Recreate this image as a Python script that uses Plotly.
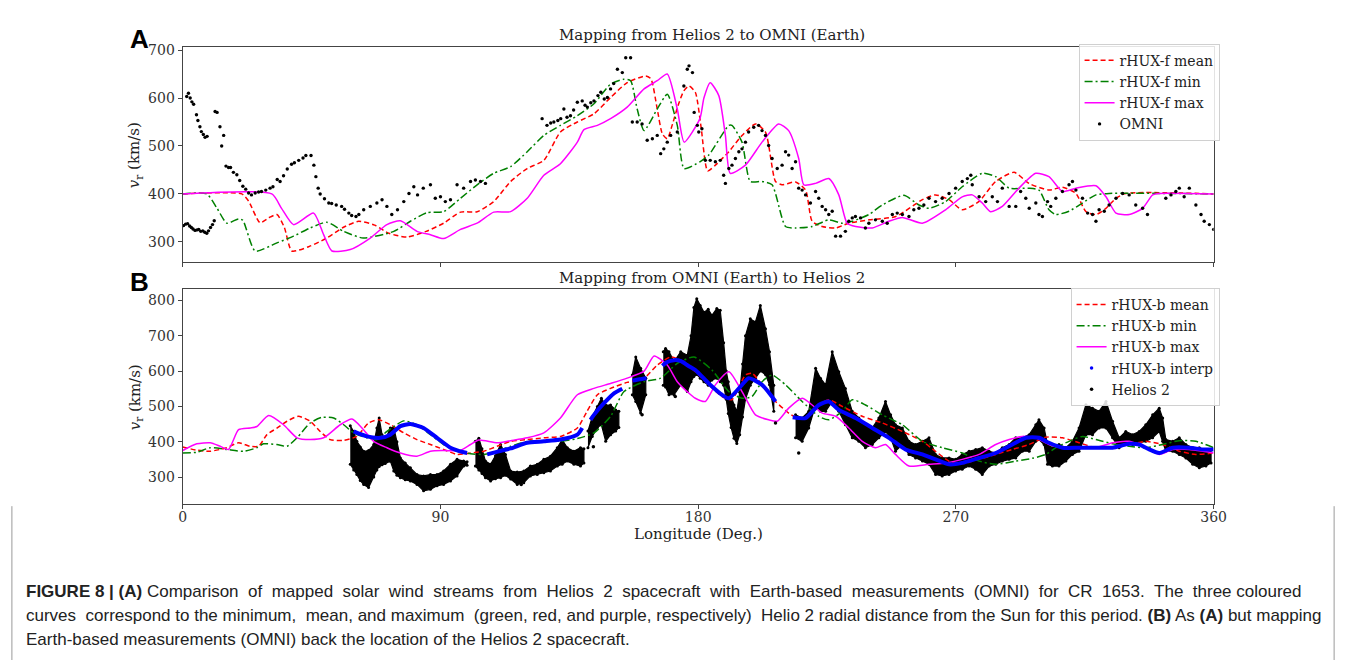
import plotly.graph_objects as go

# ---------------- Panel A data (Helios 2 -> OMNI) ----------------
a_mean_lon = [0, 20.6, 23, 27, 30, 32.9, 35.5, 38.1, 44, 50.3, 56, 61.4, 67, 72, 78.3, 85, 91.1, 97, 102.8, 108.6,
              114.5, 120.3, 126.1, 131.9, 137.8, 143.6, 149.4, 155.2, 161.7, 163.5, 165.7, 167.5, 169.2, 171, 173,
              175, 176.8, 179, 181, 183.3, 186, 190.7, 195, 200, 203.5, 207, 209.3, 214, 217.5, 219.8, 223.3, 228,
              232.6, 239.6, 249, 258.3, 262.9, 267.6, 272.2, 278, 283.9, 290.3, 295.5, 302.5, 307.2, 311.9, 315.4,
              318.9, 322.4, 325.9, 329.3, 360]
a_mean_val = [400, 400, 385, 340, 350, 357, 330, 281, 290, 308, 330, 343, 335, 318, 310, 322, 339, 362, 363, 384,
              426, 453, 470, 529, 550, 567, 601, 632, 646, 640, 577, 525, 515, 545, 585, 615, 625, 612, 540, 448,
              460, 488, 520, 546, 529, 426, 419, 425, 408, 343, 332, 329, 339, 346, 353, 388, 398, 388, 367, 384,
              426, 445, 422, 408, 414, 401, 363, 357, 370, 391, 401, 400]

a_min_lon = [0, 8.4, 12, 15.4, 19.5, 21, 25.3, 32.9, 38.7, 44.5, 50.3, 56.2, 63, 73.7, 79.5, 85.3, 91.1, 97, 102.8,
             108.6, 114.5, 120.3, 126.1, 131.9, 137.8, 143.6, 149.4, 154, 156.4, 158.7, 161.1, 165.7, 169.2, 172.7,
             175.1, 180.6, 183.7, 190.7, 191.8, 195.3, 198.2, 202.3, 205.8, 210.5, 214, 219.8, 225.6, 230.3, 233.8,
             239.6, 244.3, 251.8, 257.1, 260.6, 266.4, 272.2, 279.2, 283.9, 288.6, 295.5, 299, 302.5, 304.9, 309.5,
             314.2, 318.9, 323.5, 360]
a_min_val = [400, 400, 370, 339, 348, 345, 281, 298, 312, 329, 341, 322, 308, 322, 343, 361, 363, 391, 419,
             443, 457, 488, 522, 543, 563, 588, 629, 639, 636, 577, 532, 577, 608, 543,
             453, 467, 481, 543, 543, 508, 426, 426, 419, 332, 329, 332, 346, 339, 343,
             357, 377, 397, 377, 370, 384, 415, 443, 436, 412, 412, 408, 367, 357, 364,
             381, 398, 401, 400]

a_max_lon = [0, 31.1, 34.5, 38.7, 45.7, 49.2, 52.1, 58.5, 65.5, 71.3, 76, 81.8, 86.5, 91.1, 97, 102.8, 108.6, 114.5,
             120.3, 126.1, 131.9, 137.8, 140.1, 144.8, 149.4, 155.2, 161.1, 165.7, 169.2, 172.7, 175.1, 180.6, 182,
             184.2, 187.2, 189.5, 191.2, 196.5, 202.3, 208.1, 211.6, 215.1, 216.9, 221, 225.6, 229.1, 232, 235,
             240.8, 246.6, 251.3, 258.3, 266.4, 272.2, 275.7, 279.2, 282.1, 286.2, 292, 297.9, 302.5, 307.2, 311.9,
             318.9, 322.4, 325.9, 330.5, 335.2, 338.7, 341, 360]
a_max_val = [400, 400, 370, 336, 360, 315, 281, 284, 308, 336, 344, 322, 315, 307, 326, 339, 362, 363,
             391, 439, 463, 508, 534, 543, 557, 581, 619, 636, 650, 577, 508, 557, 600,
             632, 605, 522, 443, 460, 508, 546, 532, 474, 419, 422, 432, 398, 339, 332,
             329, 343, 351, 339, 367, 394, 398, 381, 363, 374, 412, 443, 436, 405, 412,
             417, 394, 360, 357, 370, 398, 401, 400]

omni_lon = [0.3, 1, 1.7, 2.4, 3, 3.6, 4.3, 5, 5.6, 6.3, 7, 7.7, 8.4, 9, 9.7, 10.4, 11,
            1.4, 2.0, 2.6, 3.2, 3.8, 4.8, 5.3, 6, 6.5, 7.2, 7.8, 8.5, 11.3, 12, 13, 13.6, 14.3, 15.1, 16, 16.7,
            17.7, 18.9, 19.9, 21, 22, 23, 24, 25.3, 26.5, 27.5, 29, 30.5, 31.5, 33, 34, 35.2, 36.5, 38, 39, 40.5,
            42, 43, 44.8, 45.8, 46.5, 47.3, 48, 49.5, 51, 52, 53.6, 55.5, 56.5, 58, 59, 60.5, 61.5, 63.2, 65.5,
            67.8, 69.6, 71.3, 73, 75, 77.2, 79, 80.7, 82, 84, 86.5, 88.2, 90, 91.7, 93.5, 95.8, 98.1, 100.5, 102.2,
            104, 105.7,
            125.5, 127.2, 128.5, 129.6, 131, 132, 133.1, 134.2, 135.4, 136.5, 137.8, 139.5, 140.5, 141.3, 142.5,
            143.6, 145, 146, 147.2, 148.3, 149.4, 150.5, 151.8, 153.5, 154.7, 156.4, 157, 158.7, 160.4, 162.2, 164,
            165.7, 166.9, 168, 169.2, 170.4, 172.7, 175, 176.2, 176.8, 178, 178.6, 179.7,
            180.2, 181.3, 182.5, 184.2, 186, 187.7, 188.9, 189.5, 190.7, 191.8, 193, 194.2, 195.3, 196.5, 197.6,
            199.4, 201.1, 202.3, 203.5, 204.6, 205.8, 207.6, 209.3, 210.5, 211.6, 212.8, 214, 215.1, 216.3, 217.5,
            219.2, 221, 222.1, 223.3, 224.5, 225.6, 226.8, 228, 229.7, 231.4, 232.6, 233.8, 234.9, 236.7, 238.4,
            239.6, 241.9, 244.3, 246, 247.8, 249.5, 251.3, 253.6, 255.3, 257.1, 258.8, 260.6, 262.9, 265.2, 267.6,
            269.9, 272.2, 274, 275.2, 275.7, 278.1, 280.4, 282.7, 284.5, 286.2, 288.6, 290.9, 292.6, 294.4, 295.6,
            297.9, 299, 300.2, 302, 303.1, 304.9, 307.2, 309.5, 310.7, 311.9, 314.2, 316, 317.7, 318.9, 320, 321.8,
            323.5, 325.9, 328.2, 330.5, 332.8, 335.2, 336.9, 343.3, 345.1, 346.8, 348, 349.7, 351.5, 353.8, 355.6,
            356.7, 358.5, 360]
omni_val = [334, 337, 338, 333, 330, 327, 324, 325, 326, 322, 323, 320, 318, 323, 330, 336, 344,
            603, 610, 600, 592, 587, 565, 553, 540, 530, 524, 518, 520, 572, 570, 540, 500, 522, 458, 455, 455,
            445, 440, 428, 416, 410, 402, 398, 402, 404, 405, 408, 412, 415, 430, 426, 438, 452, 462, 465, 470,
            475, 480, 480, 460, 436, 412, 400, 390, 381, 380, 377, 374, 368, 360, 355, 353, 357, 367, 374,
            381, 388, 374, 357, 367, 384, 401, 415, 398, 412, 419, 391, 394, 384, 388, 419, 412, 426, 429,
            426, 422,
            557, 543, 548, 550, 553, 557, 577, 560, 563, 575, 591, 594, 585, 581, 590,
            594, 605, 612, 598, 601, 619, 630, 660, 653, 684, 684, 550, 550, 546, 512, 515,
            522, 484, 494, 508, 522, 529, 625, 660, 667, 653, 570, 543,
            529, 536, 470, 470, 467, 470, 439, 422, 453, 460, 474, 488, 494, 508, 529,
            539, 543, 532, 522, 501, 474, 453, 460, 488, 481, 453, 467, 412, 408, 398,
            381, 405, 391, 374, 367, 357, 364, 312, 312, 322, 343, 350, 353, 350, 329,
            339, 346, 343, 339, 357, 360, 357, 353, 367, 370, 377, 391, 384, 391, 401,
            412, 426, 432, 439, 419, 394, 384, 394, 384, 412, 374, 374, 405, 391, 370,
            381, 357, 353, 384, 374, 391, 405, 419, 426, 408, 391, 360, 357, 343, 367, 364,
            377, 391, 401, 398, 377, 370, 357, 391, 398, 405, 412, 394, 412, 377, 357,
            343, 336, 326]

# ---------------- Panel B data (OMNI -> Helios 2) ----------------
b_mean_lon = [0, 4.9, 9.6, 15.4, 19.5, 23.5, 26.5, 29.4, 33, 36.4, 40.4, 44.5, 48, 51.5, 56.2, 60.8, 64.9, 68.4,
              72.5, 77.2, 81.8, 86.5, 91.1, 95.8, 100.5, 105.1, 109.8, 114.5, 120.3, 126.1, 131.9, 137.8, 141.2,
              144.8, 149.4, 155.2, 161.1, 165.7, 170.4, 175, 179, 183.7, 188.3, 191.8, 196.5, 198.8, 202.3, 207,
              211.6, 214, 217.5, 222.1, 225.6, 230.3, 237.3, 244.3, 251.3, 258.3, 263, 267.6, 272.2, 278.1, 283.9,
              289.7, 295.5, 301.4, 307.2, 313, 318.9, 324.7, 330.5, 336.3, 342.2, 348, 353.8, 360]
b_mean_val = [385, 376, 373, 383, 397, 387, 387, 420, 439, 458, 472, 458, 429, 406, 404, 415, 453, 462,
              448, 425, 406, 392, 378, 364, 368, 373, 387, 401, 406, 411, 415, 439, 486,
              533, 551, 568, 580, 617, 640, 626, 598, 561, 528, 519, 589, 594, 561, 514,
              481, 469, 467, 504, 519, 500, 472, 453, 429, 401, 372, 345, 338, 350, 364,
              378, 392, 413, 411, 397, 383, 383, 392, 401, 392, 373, 364, 368]

b_min_lon = [0, 4.9, 9.6, 15.4, 21.2, 25.9, 28.2, 32.9, 36.4, 39.9, 44.5, 48.6, 52.7, 56.2, 59.7, 64.3, 67.8, 71.3,
             77.2, 81.8, 86.5, 91.1, 95.8, 100.5, 105.1, 109.8, 114.5, 120.3, 126.1, 131.9, 137.8, 143.6, 149.4,
             154.1, 161.1, 166.9, 172.7, 178.5, 184.8, 190.7, 195.3, 198.8, 202.3, 205.8, 210.5, 216.3, 222.1,
             225.6, 230.3, 233.8, 238.4, 244.3, 251.3, 258.3, 265.2, 272.2, 278.1, 283.9, 290.9, 296.7, 301.4,
             304.9, 309.5, 314.2, 318.9, 324.7, 330.5, 336.3, 342.2, 348, 353.8, 360]
b_min_val = [368, 370, 383, 378, 373, 383, 394, 392, 387, 411, 453, 469, 467, 448, 425, 411, 406, 429,
             459, 448, 420, 392, 373, 366, 364, 373, 387, 401, 403, 401, 409, 425, 472,
             542, 570, 580, 622, 640, 603, 542, 523, 528, 570, 589, 561, 514, 472,
             462, 486, 519, 504, 476, 448, 401, 383, 368, 345, 336, 345, 353, 364,
             383, 401, 415, 406, 394, 387, 383, 392, 403, 401, 383]

b_max_lon = [0, 4.9, 9.6, 13.1, 16, 19.5, 23.5, 25.9, 30, 35.2, 39.9, 44.5, 49.2, 55, 59.1, 62.6, 66.7, 71.3, 76,
             81.8, 86.5, 91.1, 96.9, 100.5, 103.4, 109.8, 114.5, 120.3, 126.1, 131.9, 137.8, 143.6, 149.4, 155.2,
             161.1, 164.6, 169.2, 172.7, 177.4, 179, 182.5, 186, 190.7, 195.3, 200, 204.6, 207.6, 211.6, 216.3,
             219.8, 223.3, 228, 232.6, 237.3, 241.9, 245.4, 248.9, 253.6, 260.6, 266.4, 272.2, 278.1, 283.9, 288.6,
             293.2, 297.9, 302.5, 307.2, 313, 318.9, 324.7, 330.5, 336.3, 341, 345.7, 351.5, 356.2, 360]
b_max_val = [375, 394, 397, 387, 378, 434, 439, 443, 474, 448, 411, 406, 411, 448, 464, 439, 401, 383, 368,
             359, 373, 375, 375, 392, 405, 397, 403, 411, 425, 467, 533, 551, 565, 580,
             600, 643, 617, 570, 533, 523, 514, 561, 598, 542, 476, 462, 458, 495, 523,
             504, 481, 472, 439, 401, 383, 392, 364, 331, 336, 340, 350, 364, 392, 406,
             415, 411, 392, 383, 383, 383, 397, 401, 383, 364, 378, 378, 373, 368]

# blue "interp" curve (None marks a gap)
interp_lon = [59.7, 64.3, 69.0, 72.5, 76.0, 79.5, 84.1, 88.8, 93.5, 98.1, 99.3, None,
              106.3, 110, 114.5, 120.3, 126.1, 131.9, 137.8, 139.5, None,
              142.4, 143.6, 147.1, 150.6, 153.5, None,
              157, 159.5, 162, None,
              167.5, 169, 171.6, 174, 176.5, 179, 183.7, 188.3, 190.7, 195.3, 197.6, 202.3, 207.0, None,
              213, 217.5, 222.1, 225.6, 229.1, 235.0, 240.8, 246.6, 252.4, 258.3, 262.9, 267.6, 272.2, 278.1,
              283.9, 289.7, 294.4, 299.0, 302.5, 307.2, 313.0, 318.9, 324.7, 330.5, 334.0, 337.5, 341.0, 345.7,
              351.5, 356.2, 360]
interp_val = [429, 415, 411, 420, 444, 450, 439, 411, 383, 370, 368, None,
              364, 372, 381, 397, 401, 406, 420, 439, None,
              462, 476, 509, 537, 550, None,
              573, 577, 580, None,
              615, 625, 631, 628, 615, 603, 565, 533, 523, 561, 580, 561, 514, None,
              469, 467, 504, 514, 490, 467, 439, 411, 378, 364, 350, 336, 340, 354,
              368, 392, 411, 411, 397, 383, 383, 383, 383, 394, 392, 378, 368, 383,
              383, 378, 378]

# Helios 2 measurements: upper / lower envelope of the dense point cloud (None marks a data gap)
helios_lon = [58.5, 59.7, 60.8, 62.0, 63.2, 64.9, 66.7, 67.8, 68.6, 69.6, 70.7, 72.5, 73.7, 74.8, 76.0, 77.7, 79.5,
              81.8, 84.1, 86.5, 88.8, 91.1, 93.5, 95.8, 98.1, 99.3, None,
              102.2, 103.4, 104.5, 105.7, 107.5, 109.2, 111.0, 112.7, 114.5, 116.8, 119.1, 121.4, 123.8, 126.1,
              128.4, 130.8, 132.5, 134.3, 136.6, 138.9, 140.1, None,
              141.5, 143.0, 144.8, 146.2, 147.7, 149.4, 151.2, 152.3, None,
              157.0, 158.2, 159.9, 161.7, None,
              167.8, 168.6, 169.8, 171.6, 173.9, 176.2, 177.5, 178.5, 179.5, 180.7, 182.0, 183.5, 184.8, 186.5,
              187.7, 188.9, 189.8, 190.5, 191.5, 192.5, 193.5, 194.5, 195.5, 196.5, 198.2, 200.0, 201.7, 203.5,
              204.9, 206.4, None,
              214.0, 216.3, 218.6, 221.0, 222.7, 224.5, 226.8, 229.1, 231.4, 233.8, 236.1, 238.4, 240.8, 243.1,
              245.4, 247.2, 248.9, 251.3, 253.6, 255.9, 258.3, 260.6, 262.9, 265.2, 267.6, 269.9, 272.2, 274.6,
              276.9, 279.2, 281.6, 283.9, 286.2, 288.6, 290.9, 293.2, 295.6, 297.9, 299.0, 300.8, 302.0, 303.7,
              306.0, 308.4, 310.7, 313.0, 315.4, 317.7, 320.0, 322.4, 324.7, 327.0, 329.3, 331.7, 334.0, 336.3,
              338.7, 341.0, 342.2, 343.3, 345.7, 348.0, 350.3, 352.7, 355.0, 357.3, 359.1]
helios_hi = [445, 429, 401, 385, 373, 375, 392, 439, 467, 420, 405, 439, 440, 400, 354, 340, 326,
             307, 303, 307, 307, 317, 336, 350, 345, 343, None,
             401, 410, 380, 345, 336, 360, 392, 364, 317, 314, 317, 331, 336, 350,
             359, 383, 406, 383, 373, 383, 380, None,
             430, 470, 500, 523, 504, 504, 490, 486, None,
             589, 640, 608, 580, None,
             655, 664, 655, 627, 655, 645, 700, 780, 805, 786, 767, 775, 758, 777,
             772, 680, 600, 570, 530, 504, 486, 540, 620, 700, 748, 739, 786, 720,
             655, 560, None,
             476, 467, 486, 608, 580, 561, 655, 598, 551, 486, 467, 448, 439, 467,
             514, 476, 448, 439, 401, 392, 401, 411, 364, 354, 354, 350, 364, 373,
             378, 383, 373, 368, 383, 392, 411, 411, 420, 448, 462, 439, 392, 383,
             392, 383, 401, 439, 505, 495, 486, 514, 458, 411, 429, 420, 429, 448,
             476, 495, 467, 406, 401, 411, 392, 383, 383, 373, 378]
helios_lo = [336, 320, 307, 290, 279, 270, 300, 320, 330, 335, 338, 345, 317, 305, 298, 292, 289,
             279, 261, 265, 275, 279, 289, 303, 331, 333, None,
             331, 320, 310, 298, 289, 295, 298, 305, 294, 279, 284, 303, 307, 312,
             317, 331, 336, 345, 336, 331, 340, None,
             383, 415, 440, 448, 401, 420, 430, 440, None,
             533, 514, 481, 533, None,
             560, 555, 533, 533, 561, 542, 570, 585, 590, 580, 570, 560, 575, 580,
             570, 560, 520, 480, 440, 410, 395, 420, 470, 520, 560, 580, 600, 590,
             561, 486, None,
             411, 401, 439, 504, 486, 486, 514, 486, 448, 411, 401, 383, 392, 411,
             429, 411, 373, 392, 364, 354, 345, 336, 307, 303, 307, 317, 322, 331,
             322, 307, 331, 336, 345, 350, 354, 373, 373, 401, 406, 392, 336, 331,
             331, 345, 364, 373, 420, 420, 439, 439, 411, 383, 392, 392, 397, 401,
             411, 429, 401, 373, 373, 364, 354, 336, 326, 331, 340]

# a few isolated Helios 2 points outside the main cloud
helios_pts_lon = [207.0, 215.1, 118.2, 143.4, 160.4, 172.0]
helios_pts_val = [453, 368, 279, 386, 476, 528]

x_ticks = [0, 90, 180, 270, 360]

# ---------------- Figure ----------------
W, H = 1356, 660
SERIF = "DejaVu Serif"
RED, GREEN, MAG, BLUE = "#ff0000", "#008000", "#ff00ff", "#0000ff"
DASH = "5px,3px"
DASHDOT = "8px,3px,2px,3px"

fig = go.Figure()

# Panel A
fig.add_trace(go.Scatter(x=a_mean_lon, y=a_mean_val, mode="lines", name="rHUX-f mean", line=dict(color=RED, width=1.5, dash=DASH, shape="spline", smoothing=0.6), xaxis="x", yaxis="y", legend="legend"))
fig.add_trace(go.Scatter(x=a_min_lon, y=a_min_val, mode="lines", name="rHUX-f min", line=dict(color=GREEN, width=1.5, dash=DASHDOT, shape="spline", smoothing=0.6), xaxis="x", yaxis="y", legend="legend"))
fig.add_trace(go.Scatter(x=a_max_lon, y=a_max_val, mode="lines", name="rHUX-f max", line=dict(color=MAG, width=1.5, shape="spline", smoothing=0.6), xaxis="x", yaxis="y", legend="legend"))
fig.add_trace(go.Scatter(x=omni_lon, y=omni_val, mode="markers", name="OMNI", marker=dict(color="black", size=3.4), xaxis="x", yaxis="y", legend="legend"))

# Panel B: Helios cloud (segments)
seg_x, seg_hi, seg_lo = [], [], []
for lon, hi, lo in zip(helios_lon + [None], helios_hi + [None], helios_lo + [None]):
    if lon is None:
        if seg_x:
            fig.add_trace(go.Scatter(x=seg_x + seg_x[::-1], y=seg_hi + seg_lo[::-1], mode="lines+markers",
                                     fill="toself", fillcolor="black", line=dict(color="black", width=1.2),
                                     marker=dict(color="black", size=3), showlegend=False, hoverinfo="skip",
                                     xaxis="x2", yaxis="y2"))
        seg_x, seg_hi, seg_lo = [], [], []
    else:
        seg_x.append(lon); seg_hi.append(hi); seg_lo.append(lo)

fig.add_trace(go.Scatter(x=b_mean_lon, y=b_mean_val, mode="lines", name="rHUX-b mean", line=dict(color=RED, width=1.5, dash=DASH, shape="spline", smoothing=0.6), xaxis="x2", yaxis="y2", legend="legend2"))
fig.add_trace(go.Scatter(x=b_min_lon, y=b_min_val, mode="lines", name="rHUX-b min", line=dict(color=GREEN, width=1.5, dash=DASHDOT, shape="spline", smoothing=0.6), xaxis="x2", yaxis="y2", legend="legend2"))
fig.add_trace(go.Scatter(x=b_max_lon, y=b_max_val, mode="lines", name="rHUX-b max", line=dict(color=MAG, width=1.5, shape="spline", smoothing=0.6), xaxis="x2", yaxis="y2", legend="legend2"))
fig.add_trace(go.Scatter(x=interp_lon, y=interp_val, mode="lines", showlegend=False, line=dict(color=BLUE, width=4, shape="spline", smoothing=0.6), xaxis="x2", yaxis="y2"))
fig.add_trace(go.Scatter(x=[None], y=[None], mode="markers", name="rHUX-b interp", marker=dict(color=BLUE, size=3.5), xaxis="x2", yaxis="y2", legend="legend2"))
fig.add_trace(go.Scatter(x=helios_pts_lon, y=helios_pts_val, mode="markers", name="Helios 2", marker=dict(color="black", size=3.5), xaxis="x2", yaxis="y2", legend="legend2"))

X0, X1 = 181 / W, 1225 / W
axis_common = dict(showline=True, linecolor="#444", linewidth=1.2, mirror=True, ticks="outside", ticklen=4,
                   tickcolor="#444", showgrid=False, zeroline=False,
                   tickfont=dict(family=SERIF, size=14, color="#333"))

fig.update_layout(
    width=W, height=H, margin=dict(l=0, r=0, t=0, b=0),
    paper_bgcolor="white", plot_bgcolor="white", showlegend=True,
    xaxis=dict(domain=[X0, X1], range=[0, 360], tickvals=x_ticks, showticklabels=False, anchor="y", **axis_common),
    yaxis=dict(domain=[1 - 259 / H, 1 - 42 / H], range=[258, 707], tickvals=[300, 400, 500, 600, 700], anchor="x", **axis_common),
    xaxis2=dict(domain=[X0, X1], range=[0, 360], tickvals=x_ticks, anchor="y2", ticklabelstandoff=-4, **axis_common),
    yaxis2=dict(domain=[1 - 503 / H, 1 - 286 / H], range=[223, 833], tickvals=[300, 400, 500, 600, 700, 800], anchor="x2", **axis_common),
    legend=dict(x=1231 / W, y=1 - 39 / H, xanchor="right", yanchor="top", bgcolor="rgba(255,255,255,0.85)",
                bordercolor="#d0d0d0", borderwidth=1, font=dict(family=SERIF, size=14, color="#222"),
                itemwidth=30, tracegroupgap=0),
    legend2=dict(x=1231 / W, y=1 - 285 / H, xanchor="right", yanchor="top", bgcolor="rgba(255,255,255,0.85)",
                 bordercolor="#d0d0d0", borderwidth=1, font=dict(family=SERIF, size=14, color="#222"),
                 itemwidth=30, tracegroupgap=0),
)

ann = []
def A(x, y, text, **kw):
    d = dict(x=x / W, y=1 - y / H, xref="paper", yref="paper", text=text, showarrow=False,
             xanchor="center", yanchor="middle")
    d.update(kw)
    ann.append(d)

NB = "\u00a0"
A(717, 30, "Mapping from Helios 2 to OMNI (Earth)", font=dict(family=SERIF, size=15, color="#222"))
A(717, 275, "Mapping from OMNI (Earth) to Helios 2", font=dict(family=SERIF, size=15, color="#222"))
A(703, 533, "Longitude (Deg.)", font=dict(family=SERIF, size=15, color="#222"))
A(133, 151, "<i>v</i><sub>r</sub> (km/s)", textangle=-90, font=dict(family=SERIF, size=15, color="#222"))
A(133, 395, "<i>v</i><sub>r</sub> (km/s)", textangle=-90, font=dict(family=SERIF, size=15, color="#222"))
A(137, 34, "<b>A</b>", font=dict(family="Liberation Sans, Arial", size=26, color="black"))
A(137, 279, "<b>B</b>", font=dict(family="Liberation Sans, Arial", size=26, color="black"))

CAP = dict(family="Liberation Sans, Arial", size=17, color="#222")
line1_words = ["Comparison", "of", "mapped", "solar", "wind", "streams", "from", "Helios", "2", "spacecraft",
               "with", "Earth-based", "measurements", "(OMNI)", "for", "CR", "1653.", "The", "three", "coloured"]
line1 = "<b>FIGURE 8 | (A)</b> " + (" " + NB).join(line1_words[:-1]) + " " + line1_words[-1]
line2 = ("curves " + NB + "correspond to the minimum, " + NB + "mean, and maximum " + NB + "(green, red, and purple, respectively) "
         + NB + "Helio 2 radial distance from the Sun for this period. <b>(B)</b> As <b>(A)</b> but mapping")
A(20, 591, line1, xanchor="left", font=CAP)
A(20, 615, line2, xanchor="left", font=CAP)
A(20, 639, "Earth-based measurements (OMNI) back the location of the Helios 2 spacecraft.",
  xanchor="left", font=CAP)

fig.update_layout(annotations=ann)

fig.add_shape(type="line", xref="paper", yref="paper", x0=8 / W, x1=8 / W, y0=0, y1=1 - 505 / H,
              line=dict(color="#9a9a9a", width=1))
fig.add_shape(type="line", xref="paper", yref="paper", x0=1347 / W, x1=1347 / W, y0=0, y1=1 - 505 / H,
              line=dict(color="#9a9a9a", width=1))

fig.write_html("out.html")
